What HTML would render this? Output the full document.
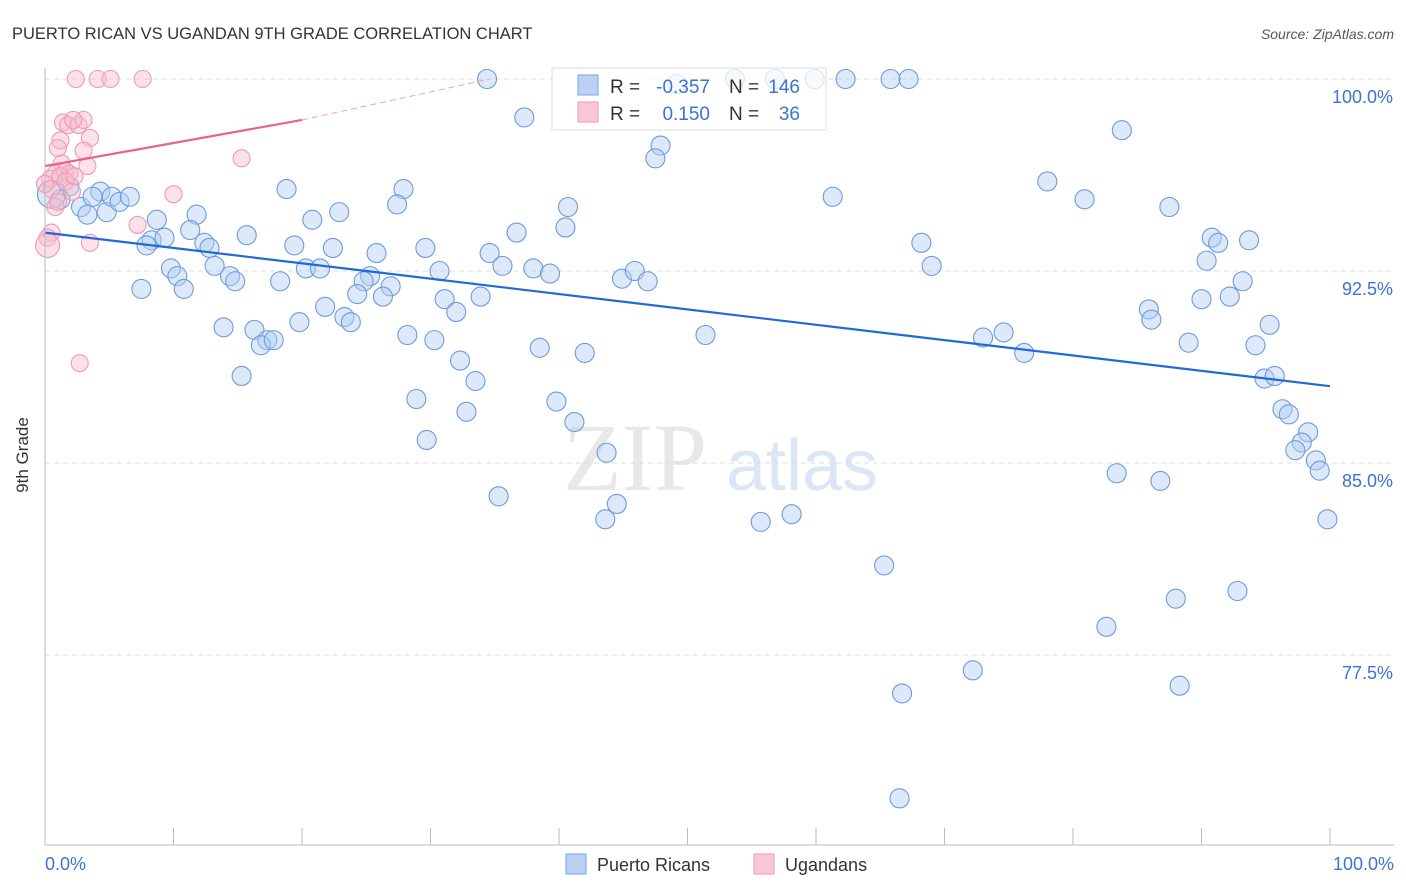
<!DOCTYPE html>
<html><head><meta charset="utf-8"><style>
body{margin:0;background:#fff;font-family:"Liberation Sans",sans-serif}
#wrap{position:relative;width:1406px;height:892px;overflow:hidden}
</style></head><body>
<div id="wrap">
<svg id="svg" width="1406" height="892" xmlns="http://www.w3.org/2000/svg">
<text x="12" y="39" font-size="16.5" fill="#333">PUERTO RICAN VS UGANDAN 9TH GRADE CORRELATION CHART</text>
<text x="1394" y="39" font-size="14" fill="#555" font-style="italic" text-anchor="end">Source: ZipAtlas.com</text>
<text x="635" y="490" font-size="96" fill="#e8e8e8" font-family="Liberation Serif,serif" text-anchor="middle">ZIP</text>
<text x="802" y="490" font-size="72" fill="#dbe6f6" text-anchor="middle">atlas</text>
<g id="grid"></g>
<g id="pts"></g><g id="lines"></g>
<g>
<rect x="552" y="68" width="274" height="62" fill="#fff" fill-opacity="0.75" stroke="#ddd"/>
<rect x="578" y="75" width="20" height="20" fill="#b9d2f3" stroke="#7aa5e0"/>
<rect x="578" y="102" width="20" height="20" fill="#f9c6d4" stroke="#eb9ab2"/>
<text x="610" y="93" font-size="19" fill="#333">R =</text>
<text x="710" y="93" font-size="19" fill="#3b73d4" text-anchor="end">-0.357</text>
<text x="729" y="93" font-size="19" fill="#333">N =</text>
<text x="800" y="93" font-size="19" fill="#3b73d4" text-anchor="end">146</text>
<text x="610" y="120" font-size="19" fill="#333">R =</text>
<text x="710" y="120" font-size="19" fill="#3b73d4" text-anchor="end">0.150</text>
<text x="729" y="120" font-size="19" fill="#333">N =</text>
<text x="800" y="120" font-size="19" fill="#3b73d4" text-anchor="end">36</text>
</g>
<line x1="45" y1="68" x2="45" y2="845" stroke="#bbb"/>
<line x1="45" y1="845" x2="1394" y2="845" stroke="#bbb"/>
<text x="28" y="455" font-size="17" fill="#333" transform="rotate(-90 28 455)" text-anchor="middle">9th Grade</text>
<text x="45" y="870" font-size="18" fill="#3b73d4">0.0%</text>
<text x="1394" y="870" font-size="18" fill="#3b73d4" text-anchor="end">100.0%</text>
<g>
<rect x="566" y="854" width="20" height="20" fill="#b9d2f3" stroke="#7aa5e0"/>
<text x="597" y="871" font-size="18" fill="#333">Puerto Ricans</text>
<rect x="754" y="854" width="20" height="20" fill="#f9c6d4" stroke="#eb9ab2"/>
<text x="785" y="871" font-size="18" fill="#333">Ugandans</text>
</g>
</svg></div>
<script>
const yTicks=[100,92.5,85,77.5];
const yTickLabels=["100.0%","92.5%","85.0%","77.5%"];
const xTicks=[0,10,20,30,40,50,60,70,80,90,100];
const blueX=[34.4,37.3,47.9,47.5,49.2,53.7,56.8,59.9,62.3,65.8,67.2,83.8,78.0,80.9,87.5,61.3,40.7,40.5,36.7,27.9,27.4,18.8,22.9,20.8,11.8,8.7,4.3,1.9,1.2,2.8,3.7,4.8,5.2,5.8,6.6,3.3,0.5,8.3,7.9,9.3,11.3,15.7,12.4,12.8,19.4,22.4,25.8,29.6,34.6,35.6,38.0,39.3,44.9,45.9,46.9,30.7,25.3,20.3,21.4,13.2,9.8,10.3,14.4,14.8,18.3,24.8,26.9,7.5,10.8,24.3,26.3,31.1,33.9,32.0,21.8,23.3,23.8,19.8,13.9,16.3,17.3,16.8,17.8,28.2,30.3,38.5,42.0,51.4,32.3,33.5,15.3,28.9,39.8,32.8,41.2,29.7,43.7,35.3,44.5,43.6,55.7,58.1,68.2,69.0,73.0,74.6,76.2,85.9,86.1,89.0,90.0,92.2,93.2,90.4,90.8,91.3,93.7,95.3,94.2,94.9,95.7,96.3,96.8,98.3,97.8,97.3,98.9,99.2,99.8,83.4,86.8,65.3,88.0,92.8,82.6,72.2,66.7,88.3,66.5];
const blueY=[100,98.5,97.4,96.9,99.8,100,100,100,100,100,100,98.0,96.0,95.3,95.0,95.4,95.0,94.2,94.0,95.7,95.1,95.7,94.8,94.5,94.7,94.5,95.6,95.8,95.3,95.0,95.4,94.8,95.4,95.2,95.4,94.7,95.5,93.7,93.5,93.8,94.1,93.9,93.6,93.4,93.5,93.4,93.2,93.4,93.2,92.7,92.6,92.4,92.2,92.5,92.1,92.5,92.3,92.6,92.6,92.7,92.6,92.3,92.3,92.1,92.1,92.1,91.9,91.8,91.8,91.6,91.5,91.4,91.5,90.9,91.1,90.7,90.5,90.5,90.3,90.2,89.8,89.6,89.8,90.0,89.8,89.5,89.3,90.0,89.0,88.2,88.4,87.5,87.4,87.0,86.6,85.9,85.4,83.7,83.4,82.8,82.7,83.0,93.6,92.7,89.9,90.1,89.3,91.0,90.6,89.7,91.4,91.5,92.1,92.9,93.8,93.6,93.7,90.4,89.6,88.3,88.4,87.1,86.9,86.2,85.8,85.5,85.1,84.7,82.8,84.6,84.3,81.0,79.7,80.0,78.6,76.9,76.0,76.3,71.9];
const pinkX=[2.4,4.1,5.1,7.6,1.4,1.8,2.6,3.0,2.2,1.2,3.5,1.0,3.0,1.3,3.3,15.3,0.8,1.6,0.4,1.9,0.5,10.0,0.8,7.2,0.5,0.2,3.5,0.2,2.7,1.0,1.2,0.0,1.6,2.3,2.1];
const pinkY=[100,100,100,100,98.3,98.2,98.2,98.4,98.4,97.6,97.7,97.3,97.2,96.7,96.6,96.9,96.3,96.4,96.1,96.3,95.7,95.5,95.0,94.3,94.0,93.8,93.6,93.5,88.9,95.2,96.2,95.9,96.0,96.2,95.6];
const blueBig=[36];
const pinkBig=[27];
const blueTrend=[94.0,88.0];
const pinkTrend=[96.6,98.4,100];
const X=v=>45+v*12.85, Y=v=>79+(100-v)*25.6;
const NS="http://www.w3.org/2000/svg";
const grid=document.getElementById('grid'),pts=document.getElementById('pts'),lines=document.getElementById('lines');
function mk(tag,a,p){const e=document.createElementNS(NS,tag);for(const k in a)e.setAttribute(k,a[k]);p.appendChild(e);return e;}
yTicks.forEach((t,i)=>{
 const l=mk('line',{x1:45,x2:1394,y1:Y(t),y2:Y(t),stroke:'#ddd','stroke-dasharray':'5,4'},grid);
 
 
 const tx=mk('text',{x:1393,y:Y(t)+24,'font-size':18,fill:'#3b73d4','text-anchor':'end'},grid);
 tx.textContent=yTickLabels[i];
 
 
});
xTicks.forEach(t=>{
 const l=mk('line',{x1:X(t),x2:X(t),y1:828,y2:845,stroke:'#bbb'},grid);
 
 
});
blueX.forEach((x,i)=>{
 const c=mk('circle',{cx:X(x),cy:Y(blueY[i]),r:blueBig.includes(i)?14:9.5,fill:'#b4cff2','fill-opacity':0.45,stroke:'#6a9be0','stroke-width':1.1},pts);
 
 
});
pinkX.forEach((x,i)=>{
 const c=mk('circle',{cx:X(x),cy:Y(pinkY[i]),r:pinkBig.includes(i)?12:8.5,fill:'#f8bccd','fill-opacity':0.45,stroke:'#ee9ab4','stroke-width':1.1},pts);
 
 
});
const bl=mk('line',{x1:X(0),y1:Y(blueTrend[0]),x2:X(100),y2:Y(blueTrend[1]),stroke:'#1f6ad8','stroke-width':2.2},lines);


const pl=mk('line',{x1:X(0),y1:Y(pinkTrend[0]),x2:X(20),y2:Y(pinkTrend[1]),stroke:'#e8628c','stroke-width':2.2},lines);


const pd=mk('line',{x1:X(20),y1:Y(pinkTrend[1]),x2:X(34.6),y2:Y(pinkTrend[2]),stroke:'#eea0b8','stroke-width':1,'stroke-dasharray':'6,4'},lines);


</script>
</body></html>
